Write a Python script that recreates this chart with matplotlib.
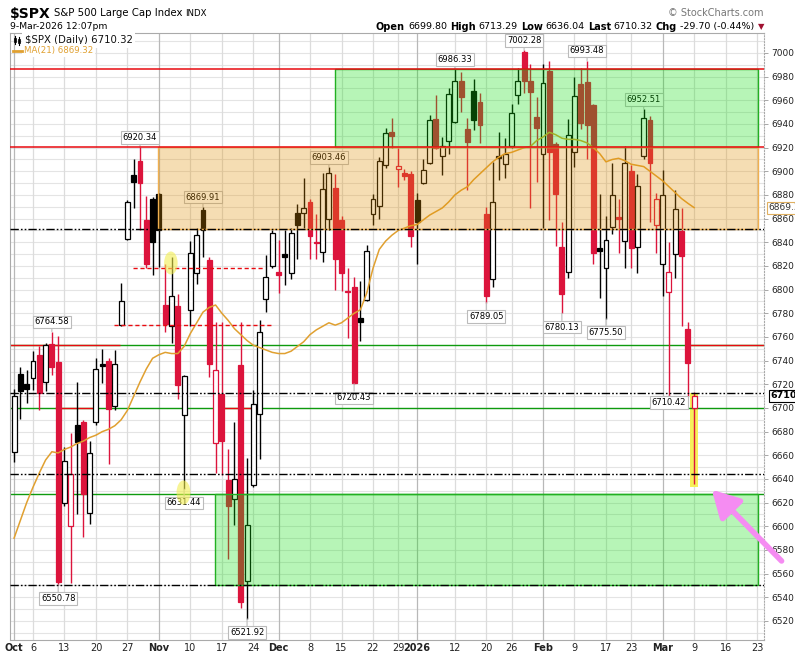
import matplotlib
matplotlib.use('Agg')
import matplotlib.pyplot as plt
from matplotlib.patches import Rectangle, Ellipse, FancyArrowPatch
from matplotlib.lines import Line2D
import pandas as pd

W, H = 795, 653

# trading calendar (NYSE holidays removed)
holidays = ['2025-11-27', '2025-12-25', '2026-01-01', '2026-01-19', '2026-02-16']
days = [d.strftime('%Y-%m-%d') for d in pd.bdate_range('2025-10-01', '2026-03-31')
        if d.strftime('%Y-%m-%d') not in holidays]
day_index = {d: i for i, d in enumerate(days)}

# daily OHLC, 1-Oct-2025 .. 9-Mar-2026
opens = [6663, 6729, 6720, 6725, 6745, 6722, 6754, 6739, 6620, 6600,
         6686, 6688, 6611, 6688, 6737, 6740, 6702, 6770, 6843, 6897,
         6909, 6859, 6877, 6881, 6787, 6769, 6786, 6694, 6783, 6814,
         6867, 6825, 6670, 6712, 6639, 6623, 6736, 6554, 6635, 6695,
         6792, 6820, 6815, 6830, 6814, 6865, 6865, 6874, 6840, 6832,
         6860, 6886, 6859, 6799, 6802, 6776, 6791, 6864, 6871, 6905,
         6933, 6901.7, 6899, 6898, 6876, 6890, 6907, 6944, 6913, 6926,
         6942, 6976, 6936, 6968, 6959, 6864, 6809, 6913, 6906, 6921,
         6964.5, 7001, 6976, 6945.6, 6915, 6985, 6923, 6836, 6815, 6916,
         6973.8, 6975.8, 6956, 6835, 6818, 6853, 6861, 6841, 6900, 6836,
         6913, 6943, 6855, 6822, 6798, 6830, 6849.6, 6767, 6699.80]
highs = [6716, 6735, 6732, 6748, 6752, 6755, 6764.58, 6761, 6667, 6679,
         6722, 6690, 6672, 6742, 6750, 6742, 6749, 6806, 6876, 6910,
         6920.34, 6879, 6878, 6882, 6822, 6828, 6796, 6728, 6841, 6852,
         6869.91, 6828, 6773, 6773, 6665, 6688, 6773, 6658, 6715, 6774,
         6829, 6850, 6842, 6850, 6852, 6872, 6894, 6877, 6864, 6899,
         6903.46, 6898, 6862, 6818, 6811, 6807, 6838, 6881, 6912, 6937,
         6945, 6919.5, 6902, 6900, 6882, 6910, 6948, 6964.5, 6929, 6970,
         6986.33, 6984, 6945, 6978, 6966, 6870, 6908, 6933, 6928, 6957,
         6987, 7002.28, 6991, 6963, 6991, 6993, 6925, 6857, 6944, 6979.5,
         6987, 6993.48, 6957, 6881, 6862, 6907, 6877, 6921, 6905, 6898,
         6952.51, 6947, 6882, 6901, 6840, 6884, 6869, 6773, 6713.29]
lows = [6654, 6691, 6704, 6715, 6698, 6714, 6728, 6550.78, 6617, 6552,
        6610, 6591, 6602, 6686, 6721, 6653, 6698, 6769, 6842, 6869,
        6850, 6818, 6812, 6819, 6764, 6755, 6708, 6631.44, 6769, 6805,
        6828, 6726, 6645, 6643, 6572, 6601, 6531, 6521.92, 6633, 6657,
        6781, 6818, 6797, 6804, 6809, 6826, 6852, 6826, 6826, 6823,
        6850, 6800, 6799, 6759, 6720.43, 6757, 6790, 6855, 6860, 6903,
        6920, 6887, 6893, 6836, 6822, 6889, 6906, 6918.6, 6897, 6915,
        6941, 6950, 6884, 6935, 6924, 6789.05, 6802, 6893, 6894, 6920,
        6957, 6966, 6869, 6891, 6852, 6859, 6837, 6780.13, 6810, 6904,
        6936, 6910, 6822, 6793, 6775.50, 6847, 6831, 6818, 6818, 6814,
        6910, 6857, 6831, 6795, 6710.42, 6810, 6769, 6710, 6636.04]
closes = [6710, 6714, 6716, 6740, 6713, 6753, 6735, 6552.5, 6655, 6644,
          6671, 6627, 6662, 6733, 6735.4, 6699, 6737, 6790, 6874, 6891,
          6890.5, 6822, 6840, 6850, 6771, 6795, 6719, 6727, 6831, 6846,
          6850, 6737, 6732, 6672, 6617, 6640, 6536, 6601, 6703, 6764,
          6811, 6848, 6812.6, 6828, 6848, 6855, 6869, 6845, 6839, 6885,
          6899, 6826, 6814, 6798, 6721.5, 6773, 6833, 6877, 6909, 6932,
          6930, 6904.5, 6896, 6845, 6857, 6901, 6943, 6919.5, 6921, 6965,
          6976.6, 6963, 6925, 6943, 6939, 6795, 6874, 6911, 6914.4, 6949,
          6976.6, 6976, 6967.3, 6937, 6975, 6916, 6881, 6796.4, 6930.7, 6963.7,
          6940.6, 6939.2, 6831, 6833, 6842, 6880, 6859.7, 6907, 6835.5, 6888,
          6945, 6907, 6877, 6880, 6815, 6868, 6828.7, 6738, 6710.32]
ma21 = [6590, 6605, 6620, 6633, 6645, 6656, 6663, 6662, 6665, 6667,
        6670, 6672, 6675, 6677, 6680, 6682, 6685, 6690, 6698, 6710,
        6722, 6733, 6742, 6745, 6747, 6746, 6746, 6752, 6763, 6772,
        6781, 6785, 6787, 6780, 6774, 6767, 6762, 6757, 6753, 6751,
        6749, 6747, 6746, 6746, 6748, 6752, 6756, 6762, 6766, 6769,
        6772, 6770, 6772, 6776, 6780, 6783, 6797, 6818, 6834, 6841,
        6846, 6850, 6852, 6854, 6855, 6859, 6863, 6866, 6869, 6874,
        6880, 6884, 6887, 6893, 6898, 6903, 6908, 6912, 6915, 6916,
        6918, 6920, 6921, 6926, 6929, 6933, 6931, 6928, 6927, 6927,
        6926, 6924, 6920, 6915, 6908, 6910, 6911, 6909, 6906, 6905,
        6904, 6900, 6896, 6892, 6887, 6882, 6877, 6873, 6869.32]

# labelled swing highs / lows
labelled_highs = [6, 20, 30, 50, 70, 81, 91, 100]
labelled_lows = [7, 27, 37, 54, 75, 87, 94, 104]

tick_dates = ['2025-10-01', '2025-10-06', '2025-10-13', '2025-10-20', '2025-10-27',
              '2025-11-03', '2025-11-10', '2025-11-17', '2025-11-24',
              '2025-12-01', '2025-12-08', '2025-12-15', '2025-12-22', '2025-12-29',
              '2026-01-02', '2026-01-12', '2026-01-20', '2026-01-26',
              '2026-02-02', '2026-02-09', '2026-02-17', '2026-02-23',
              '2026-03-02', '2026-03-09', '2026-03-16', '2026-03-23']
tick_labels = ['Oct', '6', '13', '20', '27', 'Nov', '10', '17', '24',
               'Dec', '8', '15', '22', '29', '2026', '12', '20', '26',
               'Feb', '9', '17', '23', 'Mar', '9', '16', '23']
month_labels = ['Oct', 'Nov', 'Dec', '2026', 'Feb', 'Mar']

# drawn-in support / resistance zones: start, end, low, high
zone_starts = ['2025-12-12', '2025-11-03', '2025-11-14']
zone_ends = ['2026-03-23', '2026-03-23', '2026-03-23']
zone_lows = [6920.34, 6851, 6550]
zone_highs = [6986.33, 6920.34, 6627]
zone_colors = ['#12E012', '#E19105', '#12E012']
zone_edges = ['#22B022', '#F0B050', '#22B022']

red_levels = [6986.33, 6920.34]
dashdot_levels = [6851, 6712.5, 6644, 6550]
green_levels = [6753, 6700, 6627]

RED = '#DC143C'
GOLD = '#E0A030'
LINE_RED = '#E80A10'
LINE_GREEN = '#0E9A0E'

fig = plt.figure(figsize=(W / 100, H / 100), dpi=100)
ax = fig.add_axes([10 / W, 1 - 640 / H, 754 / W, 607 / H])
ax.set_xlim(-0.65, 119.1)
ax.set_ylim(6503.9, 7016.9)
x0, x1 = ax.get_xlim()

# grid
for p in range(6510, 7017, 10):
    ax.axhline(p, color='#E4E4E4', lw=0.8, zorder=0)
for d, lab in zip(tick_dates, tick_labels):
    c = '#B8B8B8' if lab in month_labels else '#DCDCDC'
    ax.axvline(day_index[d], color=c, lw=0.9, zorder=0)

# yellow highlight behind today's bar
n = len(closes)
ax.add_patch(Rectangle((n - 1 - 0.6, 6633.2), 1.2, 6712.7 - 6633.2,
                       fc='#F6F05A', ec='none', zorder=1.5))

# level lines sit behind the bars
dd = (0, (6, 1.5, 1.2, 1.5, 1.2, 1.5))
for p in green_levels:
    ax.axhline(p, color=LINE_GREEN, lw=1, zorder=1.6)
ax.hlines(6753, x0, 16.8, color=LINE_RED, lw=1, zorder=1.7)
ax.hlines(6753, 107.1, x1, color=LINE_RED, lw=1, zorder=1.7)
ax.hlines(6700, 6.5, 12.5, color=LINE_RED, lw=1, zorder=1.7)
ax.hlines(6700, 32.4, 38.0, color=LINE_RED, lw=1, zorder=1.7)

# candles
bw = 0.78
for i in range(n):
    o, h, l, c = opens[i], highs[i], lows[i], closes[i]
    prev = closes[i - 1] if i > 0 else o
    col = 'black' if c >= prev else RED
    ax.vlines(i, l, h, color=col, lw=1, zorder=2)
    lo, hi = min(o, c), max(o, c)
    if hi - lo < 1.2:
        hi = lo + 1.2
    face = 'white' if c > o else col
    ax.add_patch(Rectangle((i - bw / 2, lo), bw, hi - lo, fc=face, ec=col,
                           lw=0.9, zorder=2.1))

# moving average
ax.plot(range(n), ma21, color=GOLD, lw=1.1, zorder=3)

# high / low tags
for i in labelled_highs:
    ax.annotate(f'{highs[i]:.2f}', xy=(i, highs[i]), xytext=(0, 7),
                textcoords='offset points', ha='center', va='center', fontsize=6,
                bbox=dict(boxstyle='square,pad=0.2', fc='white', ec='#BBBBBB', lw=0.8),
                arrowprops=dict(arrowstyle='-', color='#BBBBBB', lw=0.8,
                                shrinkA=0, shrinkB=0), zorder=3.5)
for i in labelled_lows:
    off = -5 if i == 104 else -10
    ax.annotate(f'{lows[i]:.2f}', xy=(i, lows[i]), xytext=(0, off),
                textcoords='offset points', ha='center', va='center', fontsize=6,
                bbox=dict(boxstyle='square,pad=0.2', fc='white', ec='#BBBBBB', lw=0.8),
                arrowprops=dict(arrowstyle='-', color='#BBBBBB', lw=0.8,
                                shrinkA=0, shrinkB=0), zorder=3.5)

# shaded zones on top of the bars
for s, e, lo, hi, fc, ec in zip(zone_starts, zone_ends, zone_lows, zone_highs,
                                zone_colors, zone_edges):
    xs, xe = day_index[s] - 0.1, day_index[e] + 0.1
    ax.add_patch(Rectangle((xs, lo), xe - xs, hi - lo, fc=fc, alpha=0.3,
                           ec='none', zorder=4))
    ax.add_patch(Rectangle((xs, lo), xe - xs, hi - lo, fc='none', ec=ec,
                           lw=1, zorder=4.1))

for p in red_levels:
    ax.axhline(p, color=LINE_RED, lw=1.1, zorder=5.1)
for p in dashdot_levels:
    ax.axhline(p, color='black', lw=1, ls=dd, zorder=5)
ax.hlines(6818.3, 18.9, 39.7, color=LINE_RED, lw=1, ls=(0, (3, 2)), zorder=5.1)
ax.hlines(6770.0, 15.9, 40.8, color=LINE_RED, lw=1, ls=(0, (3, 2)), zorder=5.1)

# yellow circles
ax.add_patch(Ellipse((24.9, 6822.5), 2.15, 19.5, fc='#F2EE50', alpha=0.6,
                     ec='none', zorder=6))
ax.add_patch(Ellipse((26.9, 6628.5), 2.2, 20.5, fc='#F2EE50', alpha=0.6,
                     ec='none', zorder=6))

# pink arrow
arr = FancyArrowPatch((122.2, 6569), (110.5, 6632.6),
                      arrowstyle='-|>,head_length=0.9,head_width=0.5',
                      mutation_scale=18, color='#F58CF2', lw=4, zorder=7,
                      clip_on=False)
ax.add_patch(arr)

# axes styling
ax.yaxis.tick_right()
ax.set_yticks(range(6520, 7001, 20))
ax.tick_params(axis='y', labelsize=6.5, length=3, width=0.6, color='#999999',
               pad=2, labelcolor='#222222')
ax.set_xticks([day_index[d] for d in tick_dates])
ax.set_xticklabels(tick_labels)
ax.tick_params(axis='x', labelsize=7, length=0, pad=2, labelcolor='#222222')
for t in ax.get_xticklabels():
    if t.get_text() in month_labels:
        t.set_fontweight('bold')
for s in ax.spines.values():
    s.set_color('#AAAAAA')
    s.set_linewidth(0.8)
ax.spines['right'].set_linestyle(':')


def px(x, y):
    return x / W, 1 - y / H


# legend box inside the plot
fig.text(*px(25, 40), '$SPX (Daily) 6710.32', fontsize=7.3, va='center',
         color='#111111', zorder=10,
         bbox=dict(boxstyle='square,pad=0.25', fc='white', ec='none'))
fig.text(*px(24, 50.5), 'MA(21) 6869.32', fontsize=6.2, va='center', color=GOLD,
         zorder=10, bbox=dict(boxstyle='square,pad=0.2', fc='white', ec='none'))
fig.add_artist(Line2D([13 / W, 22 / W], [1 - 50.5 / H] * 2, color=GOLD, lw=2, zorder=11))
for cx, y_a, y_b, y_c, y_d in [(15, 36, 38, 42, 44), (19, 37, 39, 43, 45)]:
    fig.add_artist(Line2D([cx / W] * 2, [1 - y_a / H, 1 - y_d / H], color='black',
                          lw=0.8, zorder=11))
    fig.add_artist(Rectangle(((cx - 1.3) / W, 1 - y_c / H), 2.6 / W, (y_c - y_b) / H,
                             fc='black', ec='black', lw=0.5, zorder=11))

# price tags on the right axis (cut by the edge, as on the site)
fig.text(*px(768, 208), '6869.32', fontsize=6.5, va='center', color='#333333',
         bbox=dict(boxstyle='square,pad=0.15', fc='white', ec='#E0B060', lw=0.8))
fig.text(*px(770, 396), '6710.32', fontsize=6.8, va='center', fontweight='bold',
         bbox=dict(boxstyle='square,pad=0.15', fc='white', ec='black', lw=0.8))

# header
renderer = fig.canvas.get_renderer()


def row(x, y, pieces, align='left'):
    seq = pieces if align == 'left' else list(reversed(pieces))
    for txt, size, weight, color in seq:
        t = fig.text(*px(x, y), txt, fontsize=size, fontweight=weight, color=color,
                     ha=align, va='center')
        w = t.get_window_extent(renderer).width
        x = x + w + 3 if align == 'left' else x - w - 3


row(10, 13.5, [('$SPX', 10, 'bold', 'black'),
               ('S&P 500 Large Cap Index', 7.3, 'normal', 'black'),
               ('INDX', 6.2, 'normal', 'black')])
fig.text(*px(10, 26.5), '9-Mar-2026 12:07pm', fontsize=6.7, va='center')
fig.text(*px(764, 13.5), '\u00a9 StockCharts.com', fontsize=7, va='center',
         ha='right', color='#777777')
row(764, 26.5, [('Open', 7, 'bold', 'black'), ('6699.80', 6.8, 'normal', 'black'),
                ('High', 7, 'bold', 'black'), ('6713.29', 6.8, 'normal', 'black'),
                ('Low', 7, 'bold', 'black'), ('6636.04', 6.8, 'normal', 'black'),
                ('Last', 7, 'bold', 'black'), ('6710.32', 6.8, 'normal', 'black'),
                ('Chg', 7, 'bold', 'black'), ('-29.70 (-0.44%)', 6.8, 'normal', 'black'),
                ('\u25bc', 6, 'normal', '#A01030')], align='right')

fig.savefig('out.png', dpi=100)
